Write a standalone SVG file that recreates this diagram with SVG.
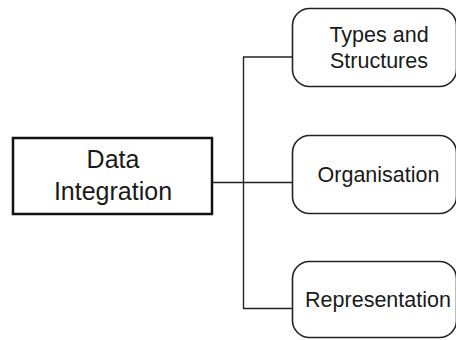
<svg xmlns="http://www.w3.org/2000/svg" width="456" height="340" viewBox="0 0 456 340">
<style>
.main{fill:#fff;stroke:#111;stroke-width:2.5}
.leaf{fill:#fff;stroke:#222;stroke-width:1.6}
.conn{fill:none;stroke:#222;stroke-width:1.4}
text{font-family:"Liberation Sans",Arial,sans-serif;fill:#1a1a1a;text-anchor:middle}
.t1{font-size:25px}
.t2{font-size:21.5px}
</style>
<rect width="456" height="340" fill="#fff"/>
<g id="connectors">
<path class="conn" d="M212 182.5 H292.5"/>
<path class="conn" d="M243.5 57 V308.5"/>
<path class="conn" d="M243 57 H292.5"/>
<path class="conn" d="M243 308.5 H292.5"/>
</g>
<g id="data-integration">
<rect class="main" x="13" y="138" width="199" height="76"/>
<text class="t1" x="113" y="168">Data</text>
<text class="t1" x="113" y="200">Integration</text>
</g>
<g id="types-and-structures">
<rect class="leaf" x="292.5" y="8.5" width="164" height="78" rx="17"/>
<text class="t2" x="379" y="42">Types and</text>
<text class="t2" x="379" y="68">Structures</text>
</g>
<g id="organisation">
<rect class="leaf" x="292.5" y="135.5" width="164" height="78" rx="17"/>
<text class="t2" x="378.5" y="182">Organisation</text>
</g>
<g id="representation">
<rect class="leaf" x="292.5" y="261.5" width="164" height="76" rx="17"/>
<text class="t2" x="378" y="307">Representation</text>
</g>
</svg>
